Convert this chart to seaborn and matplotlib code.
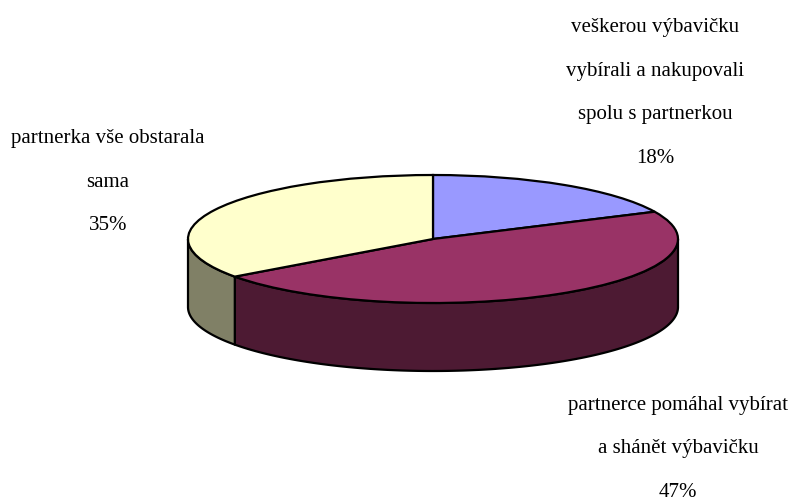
import numpy as np
import matplotlib
matplotlib.use("Agg")
import matplotlib.pyplot as plt
import seaborn as sns

sns.set_theme(style="white")
plt.rcParams['font.family'] = ['Liberation Serif', 'DejaVu Serif']

shares = [18, 47, 35]
labels = [
    "veškerou výbavičku\n\nvybírali a nakupovali\n\nspolu s partnerkou\n\n18%",
    "partnerce pomáhal vybírat\n\na shánět výbavičku\n\n47%",
    "partnerka vše obstarala\n\nsama\n\n35%",
]
top_colors = ["#9999FF", "#993366", "#FFFFCC"]
side_colors = ["#4D4D80", "#4D1A33", "#808066"]

W, H = 795, 501
CX, CY, RX, RY, DEPTH = 433, 239, 245, 64, 68
EDGE_LW = 1.6
label_anchor_px = [(655, 93), (678, 449), (108, 182)]

fig = plt.figure(figsize=(W / 100, H / 100), dpi=100, facecolor="white")
ax = fig.add_axes([0, 0, 1, 1])

wedges, _ = ax.pie(shares, colors=top_colors, startangle=90, counterclock=False,
                   radius=1, center=(0, 0),
                   wedgeprops=dict(edgecolor="black", linewidth=EDGE_LW, zorder=5))

ax.set_aspect("auto")
ax.set_xlim(-CX / RX, (W - CX) / RX)
ax.set_ylim((CY - H) / RY, CY / RY)
ax.axis("off")

depth = DEPTH / RY
fractions = np.cumsum([0] + shares) / sum(shares)
for i, col in enumerate(side_colors):
    a0 = np.pi / 2 - 2 * np.pi * fractions[i]
    a1 = np.pi / 2 - 2 * np.pi * fractions[i + 1]
    t = np.linspace(a0, a1, 400)
    t = t[np.sin(t) <= 0]
    if t.size < 2:
        continue
    x = np.cos(t)
    y = np.sin(t)
    xs = np.concatenate([x, x[::-1]])
    ys = np.concatenate([y, (y - depth)[::-1]])
    ax.fill(xs, ys, facecolor=col, edgecolor="black", linewidth=EDGE_LW,
            joinstyle="round", zorder=2)

for text, (px, py) in zip(labels, label_anchor_px):
    ax.text((px - CX) / RX, (CY - py) / RY, text, ha="center", va="center",
            fontsize=15, color="black", linespacing=1.195, zorder=10)

fig.savefig("out.png", dpi=100, facecolor="white")
